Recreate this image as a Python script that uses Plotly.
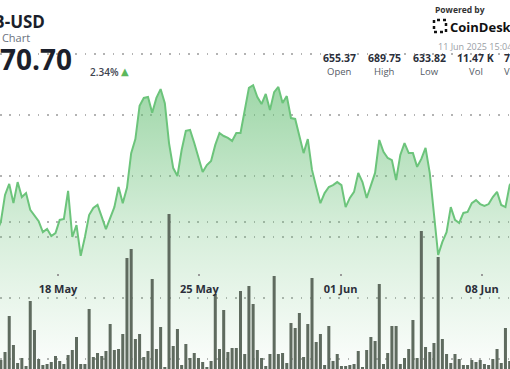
import pandas as pd
import plotly.graph_objects as go

W, H = 510, 369

# ---------------- data ----------------
start_time = "2025-05-14 23:00"
step = "5h"

price = [
    641.6, 644.9, 653.8, 657.4, 651.1, 658.0, 653.1, 654.4, 648.9, 646.9,
    645.2, 641.6, 642.6, 640.3, 641.3, 645.6, 645.9, 655.1, 640.0, 643.9,
    633.8, 640.0, 647.2, 649.5, 650.5, 646.6, 642.6, 646.2, 649.8, 656.4,
    651.1, 656.1, 667.5, 672.1, 683.0, 685.6, 685.9, 680.7, 685.6, 688.5,
    683.9, 670.8, 662.6, 660.0, 668.5, 674.8, 675.1, 670.8, 665.9, 661.3,
    663.6, 664.9, 670.2, 674.1, 673.1, 672.5, 671.5, 674.1, 674.1, 681.6,
    688.9, 689.75, 685.9, 683.6, 686.9, 681.6, 687.5, 689.2, 683.9, 686.2,
    679.0, 678.7, 672.8, 667.5, 672.1, 662.0, 656.4, 651.1, 654.4, 656.4,
    657.0, 658.0, 657.0, 649.8, 652.8, 654.8, 661.0, 658.0, 652.8, 656.7,
    661.0, 671.8, 667.9, 665.9, 665.2, 658.7, 666.9, 670.8, 667.5, 667.5,
    663.0, 665.6, 669.2, 661.0, 647.2, 634.1, 638.4, 641.6, 649.8, 645.6,
    644.6, 647.9, 648.2, 651.1, 652.1, 650.8, 650.2, 650.8, 653.1, 654.8,
    650.5, 649.8, 657.0, 658.7,
]

volume = [
    7.0,
    1.2, 2.0, 5.6, 2.7, 0.9, 1.4, 0.6, 7.1, 4.2, 1.3,
    0.7, 0.8, 1.0, 1.6, 1.1, 0.8, 1.7, 2.2, 3.5, 0.8,
    0.8, 6.3, 1.5, 1.9, 1.6, 2.1, 4.8, 2.2, 2.3, 3.8,
    11.4, 12.3, 3.3, 3.8, 1.5, 2.1, 9.3, 2.3, 4.5, 0.5,
    15.8, 2.6, 4.3, 0.7, 2.8, 1.4, 1.9, 1.4, 1.0, 0.5,
    1.1, 7.8, 2.3, 6.2, 2.0, 2.4, 2.4, 8.1, 1.8, 8.6,
    6.8,
    2.2, 1.4, 0.6, 1.8, 9.6, 1.8, 1.9, 0.9, 4.9, 4.4,
    5.9, 1.5, 4.8, 9.4, 3.0, 3.8, 0.7, 4.6, 1.1, 1.8,
    0.6, 0.6, 0.7, 0.8, 2.1, 0.5, 2.2, 3.5, 3.1, 8.8,
    0.8, 1.9, 4.6, 4.6, 0.8, 1.4, 2.3, 5.2, 1.4, 14.1,
    2.5, 2.0, 2.9, 11.5, 3.3, 1.8, 0.9, 1.8, 1.3, 0.7,
    0.7, 1.2, 1.0, 1.2, 0.8, 0.7, 1.3, 2.3, 0.9, 4.4,
    1.1, 1.5,
]

times = pd.date_range(start=start_time, periods=len(price), freq=step)

x_range = ["2025-05-15 03:02", "2025-06-09 09:25"]
price_range = [596.72, 717.70]
volume_range = [0.3, 37.2]

pair_name = "BNB-USD"
chart_label = "1 Month Chart"
last_price = "670.70"
change_pct = "2.34%"
stamp = "11 Jun 2025 15:04"
stat_values = ["655.37", "689.75", "633.82", "11.47 K", "7.67 M"]
stat_labels = ["Open", "High", "Low", "Vol", "Vol USD"]

FONT = "Open Sans"
GREEN = "#6cc47b"

fig = go.Figure()

# gradient area under the price
fig.add_trace(go.Scatter(
    x=times, y=price, mode="lines", line=dict(width=0),
    fill="tozeroy",
    fillgradient=dict(
        type="vertical", start=price_range[0], stop=690,
        colorscale=[[0, "rgba(100,190,115,0.02)"],
                    [0.5, "rgba(100,190,115,0.27)"],
                    [1, "rgba(100,190,115,0.62)"]]),
    hoverinfo="skip", showlegend=False, yaxis="y"))

# volume bars
fig.add_trace(go.Bar(
    x=times, y=volume, yaxis="y2",
    marker=dict(color="#5f6b5f", line=dict(width=0)),
    showlegend=False, hoverinfo="skip"))

# price line on top
fig.add_trace(go.Scatter(
    x=times, y=price, mode="lines", yaxis="y3",
    line=dict(color=GREEN, width=2),
    showlegend=False, hoverinfo="skip"))

grid_style = dict(gridcolor="#b3b3b3", gridwidth=1.5, griddash="1.6px,7.8px")

fig.update_layout(
    width=W, height=H,
    margin=dict(l=0, r=0, t=0, b=0),
    paper_bgcolor="white", plot_bgcolor="white",
    bargap=0.28,
    xaxis=dict(type="date", range=x_range, showgrid=False, zeroline=False,
               showline=False, anchor="free", position=(H - 273) / H,
               ticks="outside", ticklen=2, tickwidth=1.5, tickcolor="#9a9a9a",
               ticklabelstandoff=4,
               dtick=7 * 24 * 3600 * 1000, tick0="2025-05-18",
               tickformat="%d %b",
               tickfont=dict(family=FONT, size=11, color="#2b2f3a", weight=700)),
    yaxis=dict(range=price_range, dtick=20, tick0=0, showticklabels=False,
               zeroline=False, showline=False, **grid_style),
    yaxis2=dict(range=volume_range, overlaying="y", tickmode="array",
                tickvals=[15], showticklabels=False, zeroline=False,
                showline=False, **grid_style),
    yaxis3=dict(range=price_range, overlaying="y", visible=False),
)

def px(x):
    return x / W

def py(y):
    return 1 - y / H

ann = []
ann.append(dict(text=pair_name, x=px(47), y=py(22), xanchor="right",
                font=dict(family=FONT, size=17, color="#1b1f2b", weight=700)))
ann.append(dict(text=chart_label, x=px(31.5), y=py(37.5), xanchor="right",
                font=dict(family=FONT, size=11, color="#6b7280")))
ann.append(dict(text=last_price, x=px(74), y=py(59), xanchor="right",
                font=dict(family=FONT, size=28, color="#1b1f2b", weight=700)))
ann.append(dict(text=change_pct, x=px(88), y=py(72), xanchor="left",
                font=dict(family=FONT, size=10, color="#3d4350", weight=600)))
ann.append(dict(text="▲", x=px(124.5), y=py(72), xanchor="center",
                font=dict(family="DejaVu Sans", size=10, color="#5cb85c")))
ann.append(dict(text="Powered by", x=px(433), y=py(9.5), xanchor="left",
                font=dict(family=FONT, size=8.5, color="#333333", weight=700)))
ann.append(dict(text="CoinDesk", x=px(448), y=py(27), xanchor="left",
                font=dict(family=FONT, size=13, color="#111111", weight=700)))
ann.append(dict(text=stamp, x=px(436), y=py(46.5), xanchor="left",
                font=dict(family=FONT, size=9, color="#9aa0a6")))
centers = [339.5, 384.5, 429.5, 475.5, 521]
for c, v, l in zip(centers, stat_values, stat_labels):
    ann.append(dict(text=v, x=px(c), y=py(58), xanchor="center",
                    font=dict(family=FONT, size=10.5, color="#2b2f3a", weight=700)))
    ann.append(dict(text=l, x=px(c), y=py(71.5), xanchor="center",
                    font=dict(family=FONT, size=9.5, color="#555b66")))
for a in ann:
    a.update(xref="paper", yref="paper", yanchor="middle", showarrow=False)
fig.update_layout(annotations=ann)

# CoinDesk logo mark (dotted bracket square)
fig.add_shape(type="rect", xref="paper", yref="paper",
              x0=px(434), x1=px(446), y0=py(32), y1=py(20),
              line=dict(color="#111111", width=2.5, dash="dot"))

fig.write_html("out.html")
